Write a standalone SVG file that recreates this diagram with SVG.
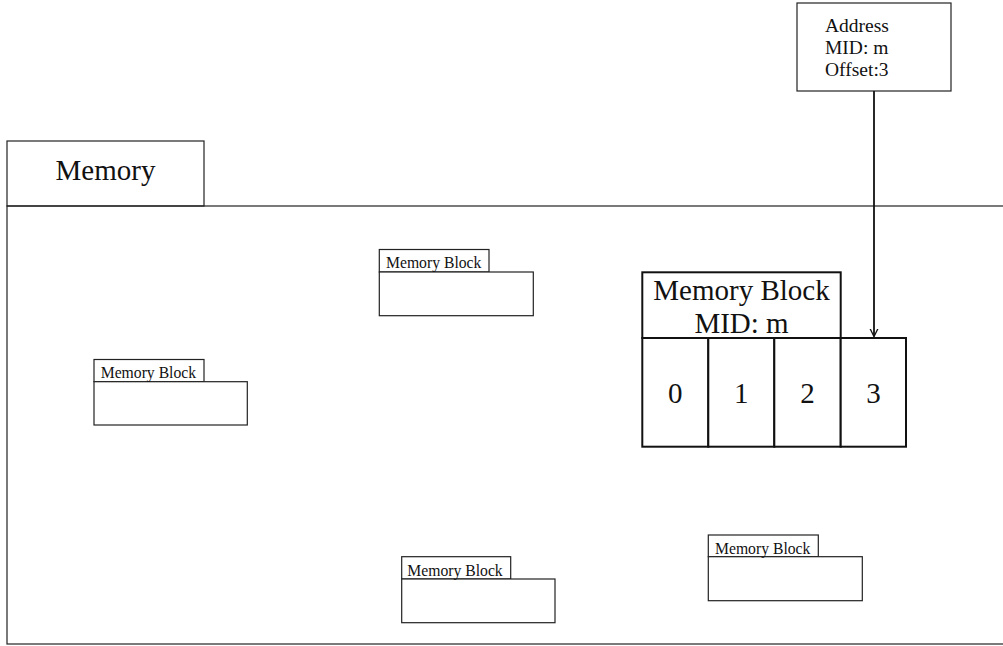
<svg xmlns="http://www.w3.org/2000/svg" width="1003" height="646" viewBox="0 0 1003 646">
<style>
  .ln { fill: none; stroke: #222; stroke-width: 1.2; }
  .bx { fill: #fff; stroke: #222; stroke-width: 1.2; }
  .bk { fill: #fff; stroke: #111; stroke-width: 2; }
  text { font-family: "Liberation Serif", "Times New Roman", serif; fill: #111; }
  .sm { font-size: 15.7px; }
  .big { font-size: 29px; }
  .addr { font-size: 19.5px; }
</style>
<defs>
  <marker id="arr" markerWidth="10" markerHeight="12" refX="8" refY="4" orient="auto" markerUnits="userSpaceOnUse" viewBox="0 0 10 8">
    <path d="M0,0 L8,4 L0,8" fill="none" stroke="#111" stroke-width="1.3"/>
  </marker>
</defs>
<rect width="1003" height="646" fill="#fff"/>

<g id="memory">
  <rect class="bx" x="7" y="141" width="197" height="65"/>
  <rect class="ln" x="7" y="206" width="1010" height="438"/>
  <text class="big" x="105.5" y="179.5" text-anchor="middle">Memory</text>
</g>

<g id="block1">
  <rect class="bx" x="379.3" y="249.5" width="109.7" height="22.5"/>
  <rect class="bx" x="379.3" y="272" width="154" height="43.7"/>
  <text class="sm" x="386" y="268.3">Memory Block</text>
</g>

<g id="block2">
  <rect class="bx" x="94" y="359.5" width="110" height="22.2"/>
  <rect class="bx" x="94" y="381.7" width="153.3" height="43.3"/>
  <text class="sm" x="100.7" y="378">Memory Block</text>
</g>

<g id="block3">
  <rect class="bx" x="401.7" y="556.7" width="109" height="22.3"/>
  <rect class="bx" x="401.7" y="579" width="153.3" height="43.7"/>
  <text class="sm" x="407.3" y="576">Memory Block</text>
</g>

<g id="block4">
  <rect class="bx" x="708.3" y="535" width="110" height="21.7"/>
  <rect class="bx" x="708.3" y="556.7" width="154" height="44"/>
  <text class="sm" x="715" y="554">Memory Block</text>
</g>

<g id="blockM">
  <rect class="bk" x="642.3" y="272.3" width="198.4" height="65.7"/>
  <text class="big" x="741.5" y="300" text-anchor="middle">Memory Block</text>
  <text class="big" x="741.5" y="333.3" text-anchor="middle">MID: m</text>
  <rect class="bk" x="642.3" y="338" width="66" height="108.7"/>
  <rect class="bk" x="708.3" y="338" width="66" height="108.7"/>
  <rect class="bk" x="774.3" y="338" width="66.4" height="108.7"/>
  <rect class="bk" x="840.7" y="338" width="65.3" height="108.7"/>
  <text class="big" x="675.3" y="403.3" text-anchor="middle">0</text>
  <text class="big" x="741.3" y="403.3" text-anchor="middle">1</text>
  <text class="big" x="807.5" y="403.3" text-anchor="middle">2</text>
  <text class="big" x="873.4" y="403.3" text-anchor="middle">3</text>
</g>

<g id="address">
  <rect class="bx" x="797" y="3" width="154" height="88"/>
  <text class="addr" x="825" y="31.7">Address</text>
  <text class="addr" x="825" y="53.7">MID: m</text>
  <text class="addr" x="825" y="75.7">Offset:3</text>
</g>

<g id="connectors">
  <line x1="874" y1="91" x2="874" y2="336.5" stroke="#111" stroke-width="1.8" marker-end="url(#arr)"/>
</g>
</svg>
